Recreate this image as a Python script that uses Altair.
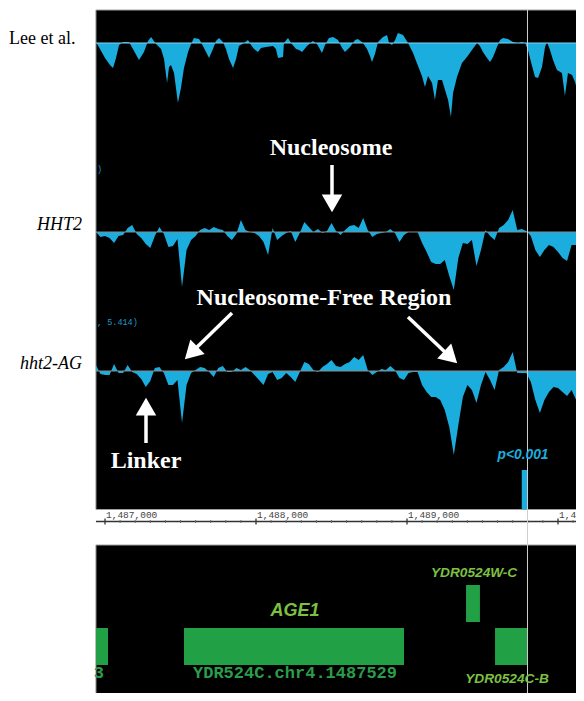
import altair as alt
import pandas as pd

# ---------------- data ----------------
# Track 1: Lee et al. (genome position, signal)
lee_pos = [1486940, 1486967, 1487000, 1487033, 1487053, 1487073, 1487093, 1487119, 1487159, 1487185,
           1487225, 1487258, 1487285, 1487305, 1487338, 1487371, 1487391, 1487411, 1487424, 1487437,
           1487457, 1487483, 1487503, 1487523, 1487550, 1487570, 1487589, 1487623, 1487642, 1487669,
           1487689, 1487715, 1487735, 1487755, 1487781, 1487801, 1487821, 1487848, 1487868, 1487887,
           1487921, 1487947, 1487967, 1487987, 1488013, 1488033, 1488066, 1488113, 1488132, 1488146,
           1488179, 1488185, 1488212, 1488232, 1488265, 1488285, 1488305, 1488338, 1488377, 1488404,
           1488437, 1488457, 1488483, 1488510, 1488543, 1488570, 1488589, 1488623, 1488656, 1488675,
           1488709, 1488735, 1488755, 1488768, 1488788, 1488808, 1488841, 1488868, 1488881, 1488901,
           1488921, 1488940, 1488974, 1489007, 1489040, 1489073, 1489099, 1489119, 1489139, 1489166,
           1489185, 1489205, 1489232, 1489252, 1489272, 1489291, 1489305, 1489331, 1489364, 1489397,
           1489430, 1489464, 1489483, 1489503, 1489530, 1489550, 1489570, 1489596, 1489616, 1489636,
           1489669, 1489702, 1489735, 1489762, 1489782, 1489801, 1489828, 1489848, 1489868, 1489894,
           1489914, 1489927, 1489947, 1489967, 1489993, 1490026, 1490046, 1490066, 1490093, 1490113,
           1490132, 1490159, 1490172]
lee_val = [0.1, -0.6, -1.5, -2.2, -2.5, -1.5, -0.2, 0.1, 0.1, -0.6,
           -1.7, -0.9, 0.2, 0.6, -0.1, -0.6, -1.6, -4.0, -2.4, -2.2,
           -3.0, -6.0, -4.5, -2.5, -0.9, -0.1, 0.5, 0.4, -0.1, -0.9,
           -1.5, -0.6, 0.2, 0.5, 0.1, -0.6, -1.6, -2.5, -1.6, -0.3,
           0.0, 0.3, -0.2, -0.6, -0.9, -0.5, -0.4, -0.3, -0.6, -1.5,
           -1.4, 0.0, 0.5, 0.0, -0.6, -0.7, -0.9, -0.3, 0.2, -0.1,
           -1.0, -0.2, 0.5, 0.6, 0.3, -0.5, -0.9, -0.4, 0.3, 0.4,
           0.0, -0.6, -1.3, -1.9, -1.1, 0.1, 0.6, 0.8, 0.0, -0.2,
           0.3, 1.0, 0.8, 0.0, -1.0, -2.3, -3.3, -4.4, -3.3, -4.0,
           -5.7, -3.7, -3.7, -4.7, -5.7, -7.4, -5.0, -3.4, -2.0, -1.4,
           -0.7, 0.0, -0.3, -0.9, -1.5, -1.9, -1.4, -0.4, 0.3, 0.5,
           0.4, 0.1, 0.0, 0.1, 0.0, -0.7, -2.3, -3.4, -3.5, -2.4,
           -0.4, 0.1, -0.7, -1.7, -2.7, -3.0, -5.3, -3.0, -3.2, -3.9,
           -5.0, -1.7, -0.7]

# Tracks 2 and 3 share one position grid (30 bp bins)
grid_pos = list(range(1486940, 1490181, 30))
hht2_val = [0, -0.5, -0.4, -0.6, -1.1, -0.4, -0.3, 0.4, 0.7, -0.2,
            -0.6, -1.2, -1.6, -0.4, 0.5, -0.2, -1.5, -1.4, -0.7, -5.5,
            -1.8, -0.8, -0.4, 0.2, 0.4, 0.2, 0.5, 0.3, 0.2, -0.4,
            -0.8, -0.2, 1.2, 0.2, 0, -0.1, -0.4, -1.0, -2.3, 0.4,
            -0.8, -0.4, -0.1, 0.1, -1.0, -0.1, 1.0, 0.5, 0, 0.3,
            -0.1, 0.1, 0.9, 0.1, -0.3, 0.2, 0.6, 0.7, 0.4, 1.4,
            0.2, -0.5, -0.2, -0.1, 0, 0.3, -0.1, -1.0, -0.3, 0,
            0, 0, -1.1, -2.0, -3.0, -3.2, -3.2, -2.8, -4.4, -5.8,
            -2.6, -1.1, -1.2, -0.8, -3.4, -1.8, 0.2, -0.4, -0.8, 0.4,
            0.7, 1.2, 2.2, 0.2, 0.3, 0.1, -0.4, -1.8, -2.5, -1.8,
            -1.3, -1.5, -2.0, -2.6, -2.9, -1.3, -1.3, -2.3, -0.8]
ag_val = [0.6, -0.3, -0.4, -0.4, 0.7, -0.2, -0.2, 0.6, -0.1, -0.3,
          -0.8, -1.6, -1.0, 0.3, 0.4, -0.2, -1.4, -1.4, -0.9, -5.2,
          -1.4, -0.2, 0.1, 0.4, 0.3, -0.1, -0.6, 0.3, 0.5, -0.1,
          -0.1, 0.3, 0.1, 0.4, 0.1, -0.4, -0.9, -1.4, -0.3, -0.1,
          -0.9, -0.7, -0.2, -0.6, -1.1, -0.1, 0.9, 0.7, 0.1, -0.1,
          0.4, 0.7, 1.1, 0.5, 0.4, 0.7, 0.9, 1.4, 1.1, 1.6,
          0.1, -0.4, -0.1, 0.2, 0.1, 0.5, 0.1, -0.7, -0.9, -0.2,
          -0.1, -0.1, -1.4, -2.1, -2.6, -2.6, -2.9, -3.9, -5.6, -8.4,
          -5.4, -2.6, -1.4, -1.9, -3.2, -1.4, -0.1, -0.9, -1.9, 0.1,
          0.4, 0.9, 1.9, -0.2, -0.2, -0.2, -1.1, -2.9, -4.2, -2.9,
          -2.1, -1.6, -1.7, -2.1, -2.5, -1.9, -2.9, -2.9, -1.4]

# Genes
gene_name = ["YDR523C", "AGE1", "YDR0524W-C", "YDR0524C-B"]
gene_start = [1486940, 1487523, 1489391, 1489583]
gene_end = [1487020, 1488980, 1489483, 1489795]
gene_strand = ["-", "-", "+", "-"]

# Ruler
major_ticks = [1487000, 1488000, 1489000, 1490000]
major_labels = ["1,487,000", "1,488,000", "1,489,000", "1,490,000"]
minor_ticks = [p for p in range(1487100, 1490200, 100) if p % 1000 != 0]

# significance marker
sig_start, sig_end = 1489760, 1489797
cursor_pos = 1489798

# ---------------- styling ----------------
SIG = "#1badde"
GENE = "#22a045"
GENE_LBL = "#7cc142"
GENE_ID = "#2a9e4a"
W, H = 568, 685
xs = alt.Scale(domain=[1486357.6, 1490119.2], nice=False, zero=False)
ys = alt.Scale(domain=[8, 693], nice=False, zero=False, reverse=True)
one = pd.DataFrame({"a": [0]})


def px(v):
    return alt.value(v - 8)


def track(pos, vals, base, gain, interp):
    df = pd.DataFrame({"pos": pos, "val": vals})
    return alt.Chart(df).transform_calculate(
        row=f"{base} - datum.val * {gain}", base=f"{base}"
    ).mark_area(color=SIG, interpolate=interp).encode(
        x=alt.X("pos:Q", scale=xs, axis=None),
        y=alt.Y("row:Q", scale=ys, axis=None),
        y2="base:Q",
    )


def baseline(row, color):
    return alt.Chart(pd.DataFrame({"x": [1486940], "x2": [1490300], "y": [row]})).mark_rule(
        color=color, strokeWidth=1).encode(
        x=alt.X("x:Q", scale=xs, axis=None), x2="x2:Q",
        y=alt.Y("y:Q", scale=ys, axis=None))


def panel(y0, y1):
    df = pd.DataFrame({"x": [1486940], "x2": [1490300], "y": [y0], "y2": [y1]})
    return alt.Chart(df).mark_rect(color="black", stroke="#a0a0a0", strokeWidth=1).encode(
        x=alt.X("x:Q", scale=xs, axis=None), x2="x2:Q",
        y=alt.Y("y:Q", scale=ys, axis=None), y2="y2:Q")


def label(text, x, y, size, font, color, align="left", baseline="alphabetic",
          weight="normal", style="normal"):
    return alt.Chart(pd.DataFrame({"t": [text]})).mark_text(
        align=align, baseline=baseline, fontSize=size, font=font, color=color,
        fontWeight=weight, fontStyle=style).encode(text="t:N", x=px(x), y=px(y))


def shaft(x1, y1, x2, y2):
    return alt.Chart(one).mark_rule(color="white", strokeWidth=3.5).encode(
        x=px(x1), y=px(y1), x2=px(x2), y2=px(y2))


def head(x, y, angle):
    return alt.Chart(one).mark_point(shape="triangle-up", size=420, angle=angle, filled=True,
                                     color="white", opacity=1, strokeWidth=0).encode(
        x=px(x), y=px(y))


layers = []
layers.append(panel(10, 509.5))
layers.append(panel(545, 720))

# signal tracks
layers.append(track(lee_pos, lee_val, 43, 10, "linear"))
layers.append(baseline(43, "#7fd3ee"))
layers.append(track(grid_pos, hht2_val, 232, 10, "linear"))
layers.append(baseline(232, "#8a8a8a"))
layers.append(track(grid_pos, ag_val, 371, 10, "linear"))
layers.append(baseline(371, "#8a8a8a"))

# p-value bar
layers.append(alt.Chart(pd.DataFrame({"x": [sig_start], "x2": [sig_end], "y": [470], "y2": [509.5]}))
              .mark_rect(color=SIG).encode(
    x=alt.X("x:Q", scale=xs, axis=None), x2="x2:Q",
    y=alt.Y("y:Q", scale=ys, axis=None), y2="y2:Q"))

# genes
gdf = pd.DataFrame({"name": gene_name, "start": gene_start, "end": gene_end, "strand": gene_strand})
layers.append(alt.Chart(gdf).transform_calculate(
    top="datum.strand == '+' ? 585 : 628", bot="datum.strand == '+' ? 622 : 665"
).mark_rect(color=GENE).encode(
    x=alt.X("start:Q", scale=xs, axis=None), x2="end:Q",
    y=alt.Y("top:Q", scale=ys, axis=None), y2="bot:Q"))

# ruler
layers.append(alt.Chart(pd.DataFrame({"x": [1486940], "x2": [1490300]})).mark_rule(
    color="#333333", strokeWidth=1.3).encode(
    x=alt.X("x:Q", scale=xs, axis=None), x2="x2:Q", y=px(521.5)))
layers.append(alt.Chart(pd.DataFrame({"p": major_ticks})).mark_rule(
    color="#333333", strokeWidth=1.3).encode(
    x=alt.X("p:Q", scale=xs, axis=None), y=px(518.5), y2=px(524.5)))
layers.append(alt.Chart(pd.DataFrame({"p": minor_ticks})).mark_rule(
    color="#666666", strokeWidth=1).encode(
    x=alt.X("p:Q", scale=xs, axis=None), y=px(520), y2=px(523)))
layers.append(alt.Chart(pd.DataFrame({"p": major_ticks, "t": major_labels})).mark_text(
    align="left", baseline="alphabetic", font="Liberation Mono", fontSize=9.5, color="#444444",
    dx=1).encode(x=alt.X("p:Q", scale=xs, axis=None), y=px(518), text="t:N"))

# cursor line
layers.append(alt.Chart(pd.DataFrame({"x": [cursor_pos]})).mark_rule(
    color="#cfcfcf", strokeWidth=1).encode(
    x=alt.X("x:Q", scale=xs, axis=None), y=px(10), y2=px(720)))

# track labels
layers.append(label("Lee et al.", 9, 43.5, 18, "Liberation Serif", "black"))
layers.append(label("HHT2", 82, 230, 18, "Liberation Serif", "black", align="right", style="italic"))
layers.append(label("hht2-AG", 82, 369, 18, "Liberation Serif", "black", align="right", style="italic"))

# small cyan remnants
layers.append(label(")", 97, 169, 8.5, "Liberation Mono", "#1a9cc8", baseline="middle"))
layers.append(label(", 5.414)", 97, 322, 8.5, "Liberation Mono", "#1a9cc8", baseline="middle"))

# annotations
layers.append(label("Nucleosome", 331, 155, 24, "Liberation Serif", "white", align="center", weight="bold"))
layers.append(shaft(332, 165, 332, 200))
layers.append(head(332, 203.3, 180))
layers.append(label("Nucleosome-Free Region", 324, 305, 24, "Liberation Serif", "white",
                    align="center", weight="bold"))
layers.append(shaft(232, 313, 194, 350))
layers.append(head(191.2, 353, 225.6))
layers.append(shaft(408, 317, 447, 354))
layers.append(head(450.7, 357.1, 133.2))
layers.append(label("Linker", 146, 468, 24, "Liberation Serif", "white", align="center", weight="bold"))
layers.append(shaft(146, 410, 146, 443))
layers.append(head(146, 406.7, 0))
layers.append(label("p<0.001", 523, 455, 13.8, "Liberation Sans", SIG, align="center",
                    baseline="middle", weight="bold", style="italic"))

# gene labels
layers.append(label("AGE1", 295, 611, 18, "Liberation Sans", GENE_LBL, align="center",
                    baseline="middle", weight="bold", style="italic"))
layers.append(label("YDR524C.chr4.1487529", 295, 673, 17, "Liberation Mono", GENE_ID, align="center",
                    baseline="middle", weight="bold"))
layers.append(label("3", 104, 673, 17, "Liberation Mono", GENE_ID, align="right",
                    baseline="middle", weight="bold"))
layers.append(label("YDR0524W-C", 474, 573, 13.7, "Liberation Sans", GENE_LBL, align="center",
                    baseline="middle", weight="bold", style="italic"))
layers.append(label("YDR0524C-B", 507, 679, 13.7, "Liberation Sans", GENE_LBL, align="center",
                    baseline="middle", weight="bold", style="italic"))

chart = alt.layer(*layers).properties(
    width=W, height=H, padding=0, background="white",
    autosize=alt.AutoSizeParams(type="none"),
).configure_view(stroke=None)

chart.save("out.html", embed_options={"renderer": "svg", "actions": False})
